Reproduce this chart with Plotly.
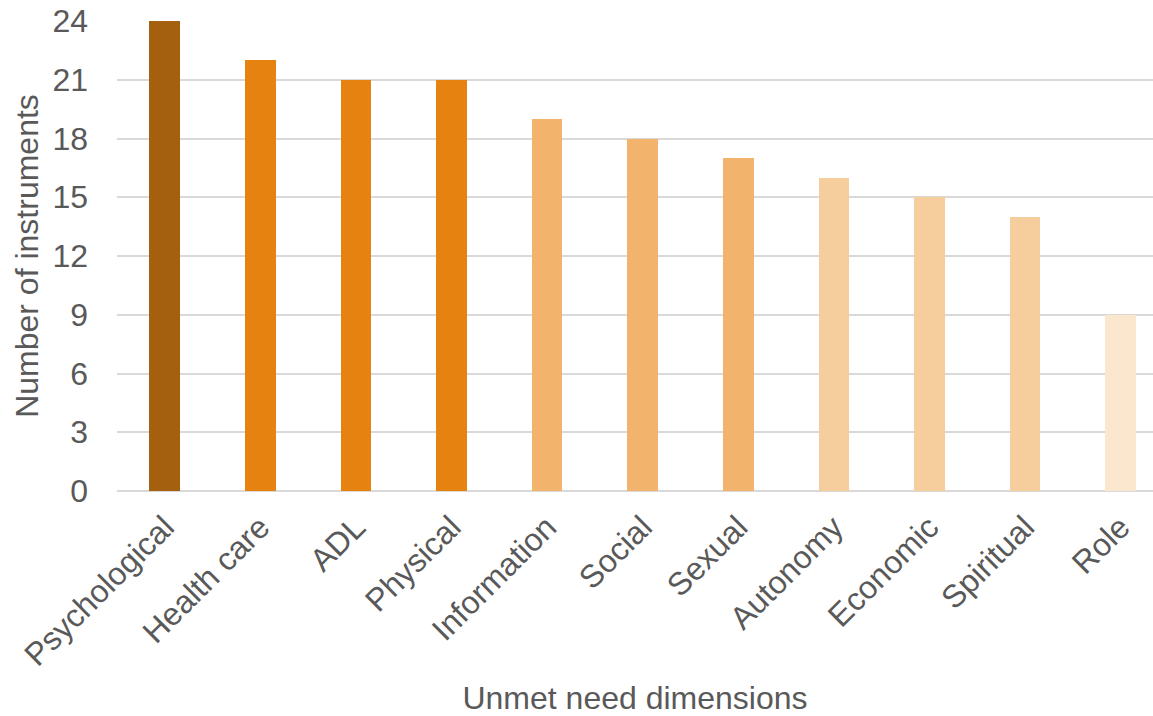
import plotly.graph_objects as go

categories = ["Psychological", "Health care", "ADL", "Physical", "Information",
              "Social", "Sexual", "Autonomy", "Economic", "Spiritual", "Role"]
values = [24, 22, 21, 21, 19, 18, 17, 16, 15, 14, 9]
colors = ["#A5600F", "#E6820F", "#E6820F", "#E6820F", "#F2B46C",
          "#F2B46C", "#F2B46C", "#F6CE9D", "#F6CE9D", "#F6CE9D", "#FAE7CD"]
y_ticks = [0, 3, 6, 9, 12, 15, 18, 21, 24]

font_color = "#595959"
fs = 32
fig = go.Figure(go.Bar(x=categories, y=values, marker_color=colors,
                       marker_line_width=0, width=0.32))

fig.update_layout(
    width=1153, height=716,
    margin=dict(l=117, r=0, t=21, b=225),
    plot_bgcolor="white", paper_bgcolor="white",
    font=dict(family="Liberation Sans, Arial, sans-serif", size=fs, color=font_color),
    showlegend=False,
    bargap=0,
)
fig.update_xaxes(
    range=[-0.5, 10.34], tickangle=-45, showgrid=False, automargin=False,
    showline=False, ticks="", ticklabelstandoff=10,
    tickfont=dict(size=fs, color=font_color),
    title=dict(text="Unmet need dimensions", font=dict(size=fs, color=font_color), standoff=22),
)
fig.update_yaxes(
    range=[0, 24], tickvals=y_ticks, showgrid=True, gridcolor="#D9D9D9", gridwidth=2,
    zeroline=True, zerolinecolor="#D9D9D9", zerolinewidth=2, automargin=False,
    showline=False, ticks="", ticklabelstandoff=28,
    tickfont=dict(size=fs, color=font_color),
    title=dict(text="Number of instruments", font=dict(size=fs, color=font_color), standoff=4),
)

fig.write_html("out.html")
